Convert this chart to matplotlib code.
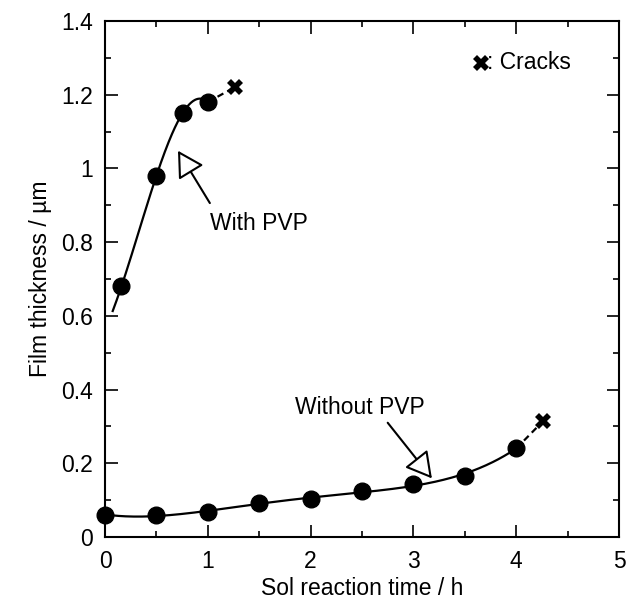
import numpy as np
import matplotlib
matplotlib.use("Agg")
import matplotlib.pyplot as plt
from matplotlib.ticker import MultipleLocator

# Data
time_with = [0.16, 0.5, 0.755, 1.0]
thick_with = [0.68, 0.98, 1.15, 1.18]
crack_with = (1.26, 1.22)

time_without = [0.0, 0.5, 1.0, 1.5, 2.0, 2.5, 3.0, 3.5, 4.0]
thick_without = [0.06, 0.06, 0.069, 0.091, 0.102, 0.125, 0.143, 0.166, 0.242]
crack_without = (4.26, 0.314)

plt.rcParams['font.family'] = ['Liberation Sans', 'DejaVu Sans']
FS = 16.5

fig = plt.figure(figsize=(6.27, 6.04), dpi=100)
ax = fig.add_axes([105/627, 67/604, 514/627, 516/604])

# fit curves
p1 = np.polyfit(time_with, thick_with, 3)
xs1 = np.linspace(0.075, time_with[-1], 200)
ax.plot(xs1, np.polyval(p1, xs1), color='black', lw=1.6, zorder=2)
ax.plot([time_with[-1], crack_with[0]], [np.polyval(p1, time_with[-1]), crack_with[1]],
        color='black', lw=1.6, ls=(0, (3, 2)), zorder=2)

p2 = np.polyfit(time_without, thick_without, 4)
xs2 = np.linspace(0, time_without[-1], 300)
ax.plot(xs2, np.polyval(p2, xs2), color='black', lw=1.6, zorder=2)
ax.plot([time_without[-1], crack_without[0]], [np.polyval(p2, time_without[-1]), crack_without[1]],
        color='black', lw=1.6, ls=(0, (3, 2)), zorder=2)

ax.plot(time_with, thick_with, 'o', color='black', ms=12, zorder=3, clip_on=False)
ax.plot(time_without, thick_without, 'o', color='black', ms=12, zorder=3, clip_on=False)
ax.plot([crack_with[0], crack_without[0]], [crack_with[1], crack_without[1]], 'X',
        color='black', ms=11.5, mew=0, zorder=3)

# legend-like note
ax.plot([3.66], [1.287], 'X', color='black', ms=11, mew=0)
ax.text(3.72, 1.287, ': Cracks', fontsize=FS, va='center', ha='left')

arrow = dict(arrowstyle='-|>,head_length=0.8,head_width=0.45', fc='white', ec='black',
             lw=1.5, mutation_scale=20, shrinkA=0, shrinkB=0)
ax.annotate('', xy=(0.71, 1.048), xytext=(1.02, 0.906), arrowprops=arrow)
ax.text(1.02, 0.85, 'With PVP', fontsize=FS, ha='left', va='center')
ax.annotate('', xy=(3.18, 0.159), xytext=(2.75, 0.31), arrowprops=arrow)
ax.text(2.48, 0.35, 'Without PVP', fontsize=FS, ha='center', va='center')

ax.set_xlim(0, 5)
ax.set_ylim(0, 1.4)
ax.xaxis.set_major_locator(MultipleLocator(1))
ax.xaxis.set_minor_locator(MultipleLocator(0.5))
ax.yaxis.set_minor_locator(MultipleLocator(0.1))
ax.set_yticks([0, 0.2, 0.4, 0.6, 0.8, 1.0, 1.2, 1.4])
ax.set_yticklabels(['0', '0.2', '0.4', '0.6', '0.8', '1', '1.2', '1.4'])
ax.tick_params(which='both', direction='in', top=True, right=True, labelsize=FS, width=1.2)
ax.tick_params(which='major', length=9, pad=9)
ax.tick_params(which='minor', length=4.5)
for s in ax.spines.values():
    s.set_linewidth(1.5)

ax.set_xlabel('Sol reaction time / h', fontsize=FS, labelpad=3)
ax.set_ylabel('Film thickness / µm', fontsize=FS, labelpad=6)

fig.savefig('out.png', dpi=100)
